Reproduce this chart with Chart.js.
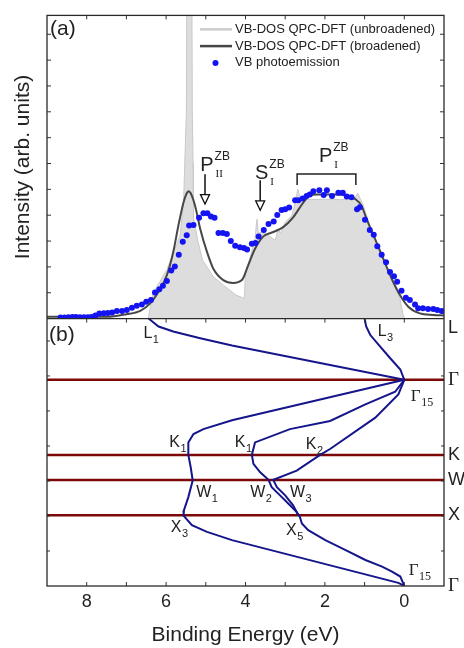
<!DOCTYPE html>
<html><head><meta charset="utf-8">
<script src="https://cdn.jsdelivr.net/npm/chart.js@4/dist/chart.umd.min.js"></script>
<style>html,body{margin:0;padding:0;background:#fff}canvas{display:block}</style>
</head><body>
<canvas id="c" width="464" height="648"></canvas>
<script>
// ---------- Panel (a): [binding energy (eV), intensity (arb. units)] ----------
const dosUnbroadened = [[6.45,0],[6.36,0.75],[6.32,1.0],[5.98,1.9],[5.65,3.2],[5.56,4.5],[5.49,8],[5.41,40],[5.34,8],[5.32,6.0],[5.31,3.9],[5.20,3.0],[5.08,2.25],[4.97,2.0],[4.81,1.62],[4.56,1.3],[4.24,0.91],[4.03,0.78],[4.00,1.8],[3.89,2.32],[3.76,3.09],[3.73,3.6],[3.71,3.85],[3.68,3.3],[3.58,3.35],[3.41,3.2],[3.25,3.03],[3.18,3.47],[3.12,3.3],[3.00,3.73],[2.83,3.99],[2.75,4.5],[2.68,5.0],[2.62,4.65],[2.40,4.6],[2.00,4.62],[1.60,4.6],[1.26,4.63],[1.17,4.85],[1.10,4.6],[1.03,4.37],[0.87,3.6],[0.62,2.58],[0.36,1.68],[0.11,0.78],[0.03,0.14],[-0.01,0]];
const dosBroadened = [[9.0,0.07],[7.5,0.07],[7.0,0.17],[6.65,0.30],[6.40,0.59],[6.19,1.04],[5.98,1.68],[5.82,2.58],[5.69,3.60],[5.56,4.50],[5.47,4.88],[5.43,4.93],[5.38,4.85],[5.27,4.37],[5.14,3.47],[4.97,2.58],[4.81,1.93],[4.56,1.49],[4.31,1.38],[4.09,1.49],[3.93,2.07],[3.76,2.70],[3.55,3.18],[3.30,3.35],[3.05,3.54],[2.80,3.92],[2.54,4.50],[2.38,4.76],[2.21,4.80],[1.79,4.80],[1.45,4.76],[1.24,4.63],[1.08,4.37],[0.95,3.86],[0.74,3.09],[0.53,2.32],[0.32,1.55],[0.11,0.91],[-0.10,0.46],[-0.39,0.20],[-0.73,0.14],[-1.0,0.12]];
const vbPhotoemission = [[8.66,0.04],[8.56,0.04],[8.46,0.05],[8.36,0.06],[8.27,0.06],[8.17,0.05],[8.07,0.05],[7.97,0.05],[7.88,0.06],[7.78,0.12],[7.68,0.20],[7.57,0.21],[7.47,0.22],[7.36,0.24],[7.24,0.29],[7.11,0.29],[6.99,0.33],[6.86,0.42],[6.74,0.50],[6.61,0.55],[6.50,0.65],[6.38,0.72],[6.28,1.01],[6.17,1.14],[6.08,1.27],[5.98,1.45],[5.87,1.86],[5.78,2.02],[5.68,2.47],[5.58,2.97],[5.48,3.22],[5.42,3.60],[5.31,3.62],[5.17,3.90],[5.06,4.08],[4.96,4.08],[4.87,3.95],[4.78,3.90],[4.68,3.31],[4.57,3.31],[4.47,3.27],[4.37,3.00],[4.26,2.82],[4.14,2.76],[4.04,2.73],[3.96,2.67],[3.84,2.90],[3.75,2.92],[3.67,3.18],[3.54,3.43],[3.42,3.66],[3.29,3.76],[3.20,4.01],[3.09,4.20],[3.00,4.23],[2.90,4.30],[2.75,4.58],[2.67,4.58],[2.56,4.65],[2.46,4.74],[2.38,4.80],[2.29,4.93],[2.14,4.97],[2.03,4.78],[1.95,4.97],[1.82,4.74],[1.66,4.87],[1.55,4.87],[1.45,4.72],[1.33,4.69],[1.19,4.23],[1.12,4.31],[0.99,3.82],[0.87,3.43],[0.77,3.24],[0.68,2.80],[0.57,2.47],[0.46,2.18],[0.36,1.80],[0.26,1.64],[0.18,1.43],[0.07,1.08],[-0.04,0.81],[-0.14,0.72],[-0.27,0.55],[-0.35,0.40],[-0.47,0.40],[-0.60,0.37],[-0.73,0.37],[-0.83,0.33],[-0.94,0.29]];

// ---------- Panel (b): bands as [energy (eV), k along L-Γ-K-W-X-Γ] ----------
const kPoints = [0, 0.866, 1.927, 2.281, 2.781, 3.781];
const kNames  = ['L', 'Γ', 'K', 'W', 'X', 'Γ'];
const bandL1 = [[6.44,0],[6.19,0.112],[5.82,0.183],[5.14,0.277],[4.34,0.379],[0,0.866]];
const bandL3 = [[1.0,0],[0.96,0.112],[0.86,0.229],[0.65,0.369],[0.36,0.557],[0.10,0.72],[0,0.866]];
const bandA = [[0,0.866],[4.34,1.437],[5.06,1.563],[5.31,1.633],[5.44,1.751],[5.44,1.927],[5.38,2.102],[5.33,2.289],[5.44,2.524],[5.55,2.71],[5.56,2.785],[5.35,2.921],[4.97,3.015],[4.34,3.132],[0.15,3.736],[0,3.778]];
const bandB = [[0,0.866],[0.23,1.035],[0.98,1.212],[1.87,1.447],[2.88,1.563],[3.76,1.751],[3.84,1.927],[3.80,2.055],[3.63,2.173],[3.42,2.28],[3.34,2.383],[3.13,2.5],[2.88,2.64],[2.71,2.735],[2.63,2.805],[2.58,2.898],[2.42,2.992],[1.99,3.132],[1.49,3.27],[0.98,3.413],[0.56,3.507],[0.31,3.577],[0.10,3.647],[0,3.778]];
const bandC = [[0,0.866],[0.15,1.072],[0.73,1.40],[1.87,1.844],[2.12,1.927],[2.71,2.149],[3.30,2.28],[3.21,2.383],[3.00,2.5],[2.80,2.64],[2.67,2.781]];
const energyTicks = [8, 6, 4, 2, 0];

// band labels: [main, subscript, energy, k, serif]
const bandLabels = [['L','1',6.57,0.277,0],['L','3',0.67,0.253,0],['Γ','15',-0.165,1.166,1],['K','1',5.92,1.822,0],['K','1',4.27,1.822,0],['K','2',2.48,1.844,0],['W','1',5.24,2.524,0],['W','2',3.88,2.524,0],['W','3',2.88,2.524,0],['X','3',5.88,3.015,0],['X','5',2.98,3.062,0],['Γ','15',-0.11,3.624,1]];
// panel (a) peak labels: [main, sup, sub, energy, intensity]
const peakLabels = [['P','ZB','II',5.14,5.72],['S','ZB','I',3.76,5.40],['P','ZB','I',2.15,6.07]];
const peakArrows = [[5.02,5.58,4.43],[3.63,5.35,4.19]];
const peakBracket = [2.70,1.22,5.59,5.17];

const SANS = '"Liberation Sans", Arial, sans-serif';
const SERIF = '"Liberation Serif", "Times New Roman", serif';
const NAVY = '#15158c', DARKRED = '#7c0808', BLUE = '#1414f2';
const xy = a => a.map(p => ({x: p[0], y: p[1]}));

const band = d => ({data: xy(d), yAxisID: 'yb', borderColor: NAVY, borderWidth: 2, pointRadius: 0, tension: 0, fill: false, order: 2});
const hline = k => ({data: [{x: -1, y: k}, {x: 9, y: k}], yAxisID: 'yb', borderColor: DARKRED, borderWidth: 2.5, pointRadius: 0, fill: false, order: 3});

const datasets = [
  {data: xy(vbPhotoemission), yAxisID: 'ya', showLine: false, pointRadius: 3, pointBackgroundColor: BLUE, pointBorderWidth: 0, order: 1},
  {data: xy(dosBroadened), yAxisID: 'ya', borderColor: '#474747', borderWidth: 2, pointRadius: 0, cubicInterpolationMode: 'monotone', fill: false, order: 4},
  {data: xy(dosUnbroadened), yAxisID: 'ya', borderColor: '#c9c9c9', borderWidth: 1, backgroundColor: '#dddddd', pointRadius: 0, tension: 0, fill: 'origin', order: 10},
  band(bandL1), band(bandL3), band(bandA), band(bandB), band(bandC),
  hline(kPoints[1]), hline(kPoints[2]), hline(kPoints[3]), hline(kPoints[4])
];

const noGrid = {display: false, drawTicks: false};
const decor = {
  id: 'decor',
  afterDraw(chart) {
    const c = chart.ctx, X = chart.scales.x, A = chart.scales.ya, B = chart.scales.yb;
    const L = X.left, R = X.right, T = A.top, M = A.bottom, BB = B.bottom;
    const seg = (x1, y1, x2, y2) => { c.beginPath(); c.moveTo(x1, y1); c.lineTo(x2, y2); c.stroke(); };
    c.save();
    c.strokeStyle = '#333'; c.lineWidth = 1;
    for (let e = 0; e <= 8; e++) { const p = X.getPixelForValue(e); seg(p, T, p, T + 4); seg(p, M, p, M + 4); seg(p, BB, p, BB - 4); }
    for (let i = 1; i <= 11; i++) { const p = A.getPixelForValue(i); seg(L, p, L + 4, p); seg(R, p, R - 4, p); }
    for (let n = 1; n <= 7; n++) { const p = B.getPixelForValue(kPoints[5] - n * 0.495); seg(L, p, L + 3, p); seg(R, p, R - 3, p); }
    c.lineWidth = 1.3; c.strokeStyle = '#2a2a2a';
    c.strokeRect(L, T, R - L, BB - T);
    seg(L, M, R, M);
    c.fillStyle = '#222'; c.textBaseline = 'alphabetic'; c.textAlign = 'left';
    // panel letters
    c.font = '21px ' + SANS;
    c.fillText('(a)', L + 3, T + 20);
    c.fillText('(b)', L + 2, M + 22);
    // legend
    c.font = '13px ' + SANS; c.textBaseline = 'middle';
    const lx = R - 244, tx = R - 209;
    c.lineWidth = 2.5; c.strokeStyle = '#cccccc'; seg(lx, T + 14, lx + 32, T + 14);
    c.strokeStyle = '#474747'; seg(lx, T + 30.7, lx + 32, T + 30.7);
    c.fillStyle = BLUE; c.beginPath(); c.arc(lx + 15.5, T + 47.5, 3, 0, 2 * Math.PI); c.fill();
    c.fillStyle = '#222';
    c.fillText('VB-DOS QPC-DFT (unbroadened)', tx, T + 14.5);
    c.fillText('VB-DOS QPC-DFT (broadened)', tx, T + 30.8);
    c.fillText('VB photoemission', tx, T + 47.2);
    c.textBaseline = 'alphabetic';
    // peak labels
    for (const [m, sup, sub, e, v] of peakLabels) {
      const x = X.getPixelForValue(e), y = A.getPixelForValue(v);
      c.font = '20px ' + SANS; c.fillText(m, x, y);
      const w = c.measureText(m).width + 1;
      c.font = '12px ' + SANS; c.fillText(sup, x + w, y - 11);
      c.font = '11px ' + SERIF; c.fillText(sub, x + w + 1, y + 6);
    }
    // arrows
    c.strokeStyle = '#111'; c.lineWidth = 1.5;
    for (const [e, v0, v1] of peakArrows) {
      const x = X.getPixelForValue(e), y0 = A.getPixelForValue(v0), y1 = A.getPixelForValue(v1);
      seg(x, y0, x, y1 - 9);
      c.lineWidth = 1.3; c.fillStyle = '#fff';
      c.beginPath(); c.moveTo(x - 4.5, y1 - 9.5); c.lineTo(x + 4.5, y1 - 9.5); c.lineTo(x, y1); c.closePath(); c.fill(); c.stroke();
      c.lineWidth = 1.5;
    }
    c.fillStyle = '#222';
    // bracket
    {
      const [e0, e1, v, vl] = peakBracket;
      const x0 = X.getPixelForValue(e0), x1 = X.getPixelForValue(e1), y = A.getPixelForValue(v), yl = A.getPixelForValue(vl);
      c.lineWidth = 1.5; c.strokeStyle = '#222';
      c.beginPath(); c.moveTo(x0, yl); c.lineTo(x0, y); c.lineTo(x1, y); c.lineTo(x1, yl); c.stroke();
    }
    // band labels
    for (const [m, sub, e, k, serif] of bandLabels) {
      const x = X.getPixelForValue(e), y = B.getPixelForValue(k);
      c.font = serif ? '17px ' + SERIF : '16px ' + SANS; c.fillText(m, x, y);
      const w = c.measureText(m).width + 0.5;
      c.font = serif ? '12px ' + SERIF : '11px ' + SANS; c.fillText(sub, x + w, y + 5);
    }
    c.restore();
  }
};

new Chart(document.getElementById('c'), {
  type: 'line',
  data: {datasets},
  plugins: [decor],
  options: {
    responsive: false, animation: false, devicePixelRatio: 1,
    layout: {padding: {top: 12, right: 0, bottom: 0, left: 0}},
    plugins: {legend: {display: false}, tooltip: {enabled: false}},
    scales: {
      x: {type: 'linear', position: 'bottom', reverse: true, min: -1, max: 9,
          grid: noGrid, border: {display: false},
          afterBuildTicks: s => { s.ticks = energyTicks.map(v => ({value: v})); },
          afterFit: s => { s.height = 62; },
          ticks: {autoSkip: false, padding: 5, color: '#222', font: {family: SANS, size: 18}, maxRotation: 0},
          title: {display: true, text: 'Binding Energy (eV)', color: '#222', font: {family: SANS, size: 21}, padding: {top: 0, bottom: 0}}},
      ya: {type: 'linear', position: 'left', stack: 'L', stackWeight: 305, weight: 1, min: 0, max: 11.73,
           grid: noGrid, border: {display: false}, ticks: {display: false},
           afterFit: s => { s.width = 47; },
           title: {display: true, text: 'Intensity (arb. units)', color: '#222', font: {family: SANS, size: 21}, padding: {top: 11, bottom: 0}}},
      yb: {type: 'linear', position: 'left', stack: 'L', stackWeight: 269, weight: 0, min: 0, max: kPoints[5], reverse: true,
           grid: noGrid, border: {display: false}, ticks: {display: false},
           afterFit: s => { s.width = 47; }},
      yaR: {type: 'linear', position: 'right', stack: 'R', stackWeight: 305, weight: 0, min: 0, max: 11.73, display: true,
            grid: noGrid, border: {display: false}, ticks: {display: false},
            afterFit: s => { s.width = 20; }},
      ybR: {type: 'linear', position: 'right', stack: 'R', stackWeight: 269, weight: 1, min: 0, max: kPoints[5], reverse: true, display: true,
            grid: noGrid, border: {display: false},
            afterBuildTicks: s => { s.ticks = kPoints.map((v, i) => ({value: i === 0 ? v + 0.13 : v})); },
            afterFit: s => { s.width = 20; },
            ticks: {autoSkip: false, padding: 4, color: '#222',
                    callback: (v, i) => kNames[i],
                    font: ctx => ({family: kNames[ctx.index] === 'Γ' ? SERIF : SANS, size: kNames[ctx.index] === 'Γ' ? 19 : 18})}}
    }
  }
});
</script>
</body></html>
